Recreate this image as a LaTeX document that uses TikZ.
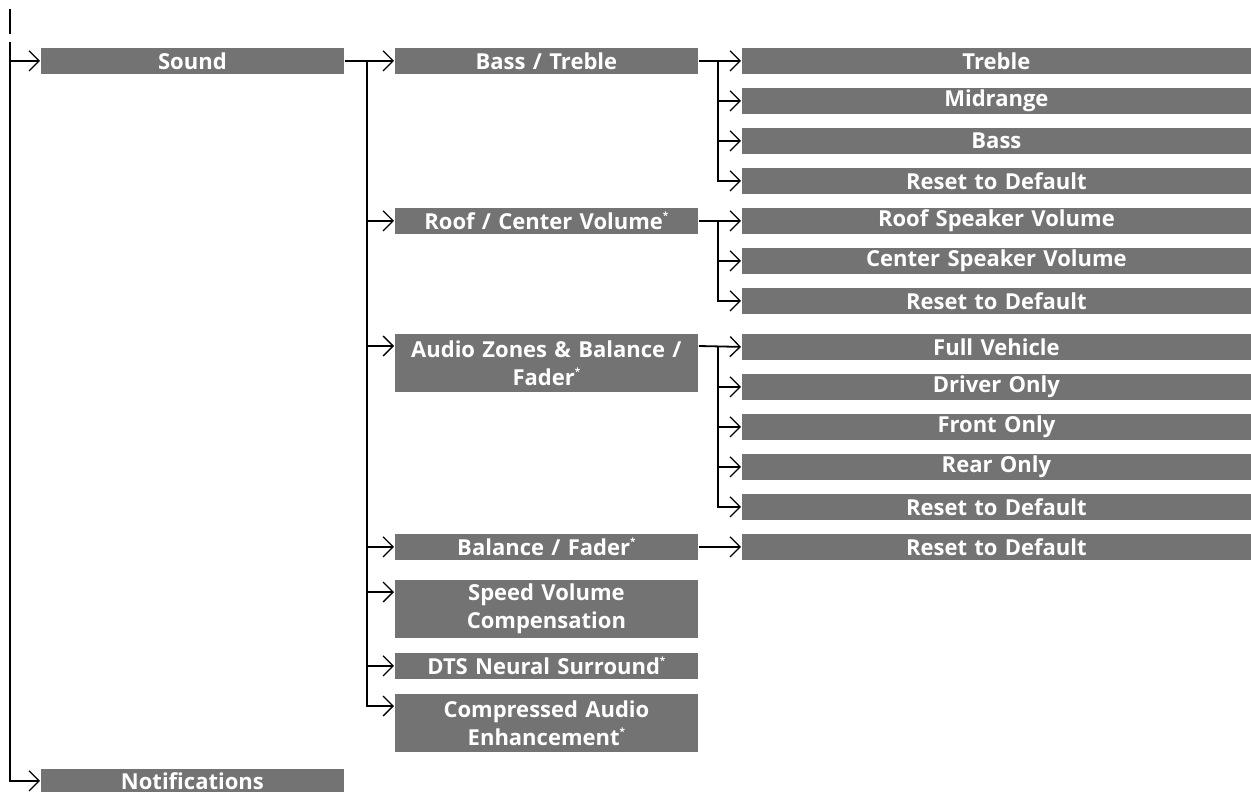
\documentclass[tikz,border=0pt]{standalone}
\usepackage{fontspec}
\setmainfont{Open Sans}
\usetikzlibrary{arrows.meta,calc}
\definecolor{boxgray}{RGB}{115,115,115}
\newcommand\optmark{\raisebox{0.8ex}{\fontsize{10}{10}\selectfont*}}
\begin{document}
\begin{tikzpicture}[x=1pt,y=-1pt,line width=1.8pt,
  box/.style={fill=boxgray,text=white,font=\bfseries\fontsize{22}{28}\selectfont,
    inner sep=0pt,anchor=north west,minimum height=26pt,align=center},
  wa/.style={box,minimum width=303pt,text width=303pt},
  wb/.style={box,minimum width=509pt,text width=509pt},
  tall/.style={minimum height=58pt},
  arr/.style={-{Straight Barb[length=10pt,width=20pt,line width=1.3pt]}}]
\useasboundingbox (0,0) rectangle (1251,792);
% level 1
\node[wa] (sound) at (40,47) {Sound};
\node[wa,minimum height=24pt] (notif) at (40,768) {Notifications};
% level 2
\node[wa] (bt)  at (394,47)  {Bass / Treble};
\node[wa] (rc)  at (394,207) {Roof / Center Volume\optmark};
\node[wa,tall] (az) at (394,333) {Audio Zones \& Balance /\\Fader\optmark};
\node[wa] (bf)  at (394,533) {Balance / Fader\optmark};
\node[wa,tall] (sv) at (394,579) {Speed Volume\\Compensation};
\node[wa] (dts) at (394,652) {DTS Neural Surround\optmark};
\node[wa,tall] (cae) at (394,693) {Compressed Audio\\Enhancement\optmark};
% level 3
\node[wb] (t1) at (741,47)  {Treble};
\node[wb] (t2) at (741,87)  {Midrange};
\node[wb] (t3) at (741,127) {Bass};
\node[wb] (t4) at (741,167) {Reset to Default};
\node[wb] (r1) at (741,207) {Roof Speaker Volume};
\node[wb] (r2) at (741,247) {Center Speaker Volume};
\node[wb] (r3) at (741,287) {Reset to Default};
\node[wb] (a1) at (741,333) {Full Vehicle};
\node[wb] (a2) at (741,373) {Driver Only};
\node[wb] (a3) at (741,413) {Front Only};
\node[wb] (a4) at (741,453) {Rear Only};
\node[wb] (a5) at (741,493) {Reset to Default};
\node[wb] (f1) at (741,533) {Reset to Default};
% connectors, level 1
\coordinate (top1) at (10,9);
\coordinate (top2) at (10,34);
\draw (top1) -- (top2);
\coordinate (m0) at (10,42);
\draw[arr] (m0) |- (sound.west);
\draw[arr] (m0) |- (notif.west);
% level 2
\coordinate (b1) at ($(sound.east)+(22,0)$);
\draw[arr] (sound.east) -- (bt.west);
\draw[arr] (b1) |- (rc.west);
\draw[arr] (b1) |- ($(az.north west)+(0,13)$);
\draw[arr] (b1) |- (bf.west);
\draw[arr] (b1) |- ($(sv.north west)+(0,13)$);
\draw[arr] (b1) |- (dts.west);
\draw[arr] (b1) |- ($(cae.north west)+(0,13)$);
% level 3
\coordinate (c1) at ($(bt.east)+(19,0)$);
\draw[arr] (bt.east) -- (t1.west);
\draw[arr] (c1) |- (t2.west);
\draw[arr] (c1) |- (t3.west);
\draw[arr] (c1) |- (t4.west);
\coordinate (c2) at ($(rc.east)+(19,0)$);
\draw[arr] (rc.east) -- (r1.west);
\draw[arr] (c2) |- (r2.west);
\draw[arr] (c2) |- (r3.west);
\coordinate (az1) at ($(az.north east)+(0,13)$);
\coordinate (c3) at ($(az1)+(19,0)$);
\draw[arr] (az1) -- (a1.west);
\draw[arr] (c3) |- (a2.west);
\draw[arr] (c3) |- (a3.west);
\draw[arr] (c3) |- (a4.west);
\draw[arr] (c3) |- (a5.west);
\draw[arr] (bf.east) -- (f1.west);
\end{tikzpicture}
\end{document}
